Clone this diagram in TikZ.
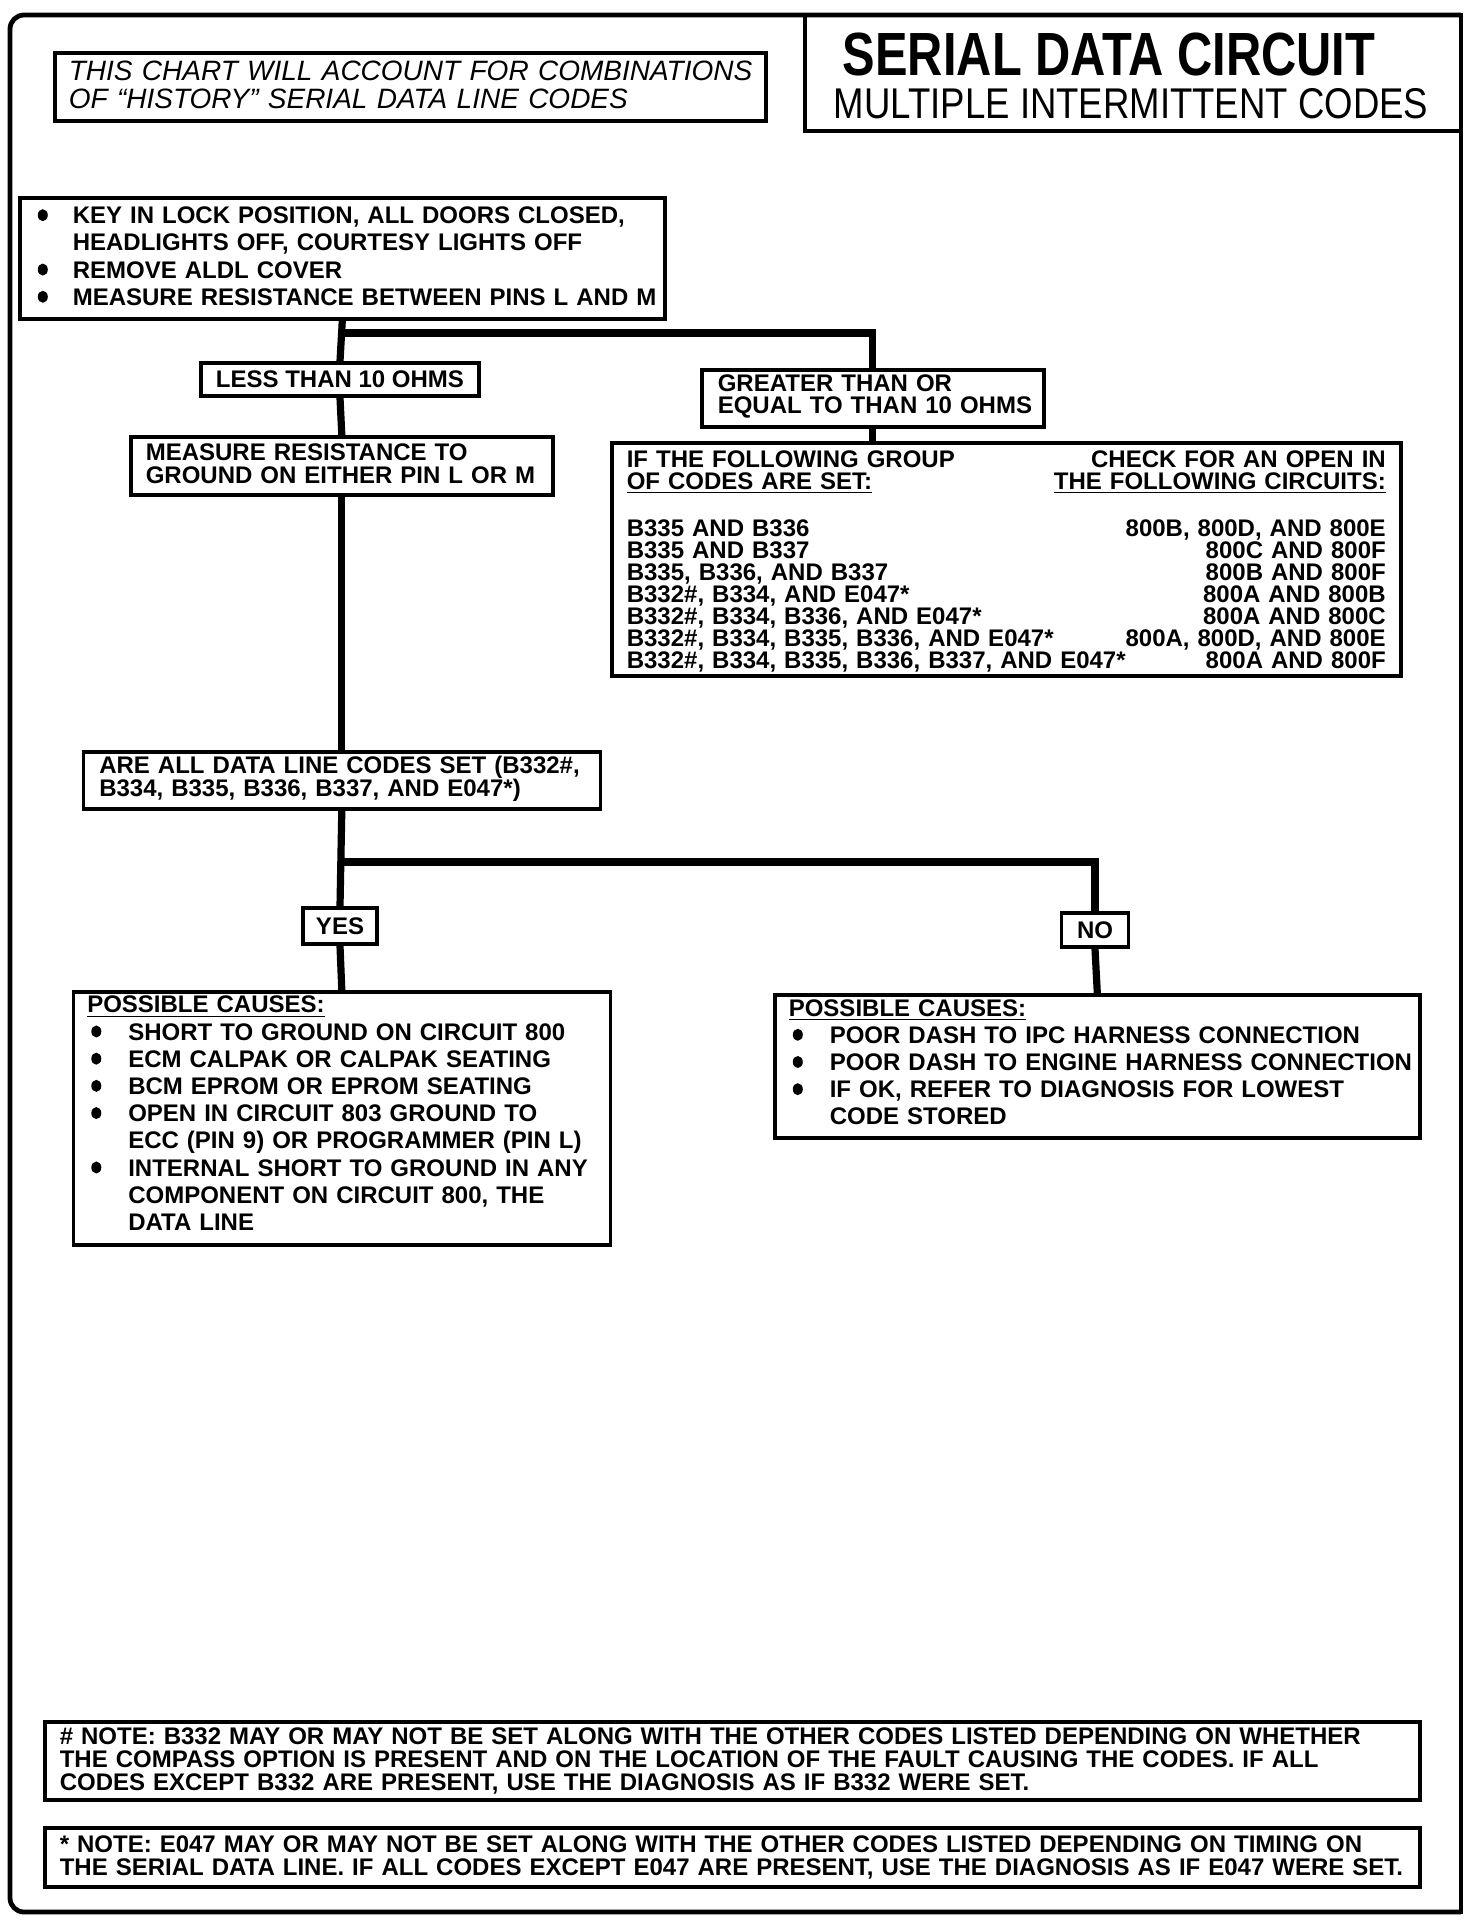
\documentclass[tikz,border=0pt]{standalone}
\usepackage{fontspec}
\setmainfont{Liberation Sans}
\newfontfamily\titlefont[FakeStretch=0.8]{Liberation Sans}
\newfontfamily\subtitlefont[FakeStretch=0.85]{Liberation Sans}
\setlength{\parindent}{0pt}
\lineskiplimit=-50pt
\newcommand\bodyfont{\bfseries\fontsize{12}{13.6}\selectfont}
\newcommand\tightfont{\bfseries\fontsize{12}{11.2}\selectfont}
\newcommand\codefont{\bfseries\fontsize{12}{11.0}\selectfont}
\newcommand\notefont{\bfseries\fontsize{12}{11.4}\selectfont}
\newsavebox\bulbox
\sbox\bulbox{\tikz\fill (0,0) ellipse [x radius=2.5pt, y radius=3pt];}
\newcommand\blt{\raisebox{1.3pt}{\usebox\bulbox}}
\newcommand\bul{\makebox[18pt][l]{\hspace{0.5pt}\blt}}
\newcommand\ind{\hspace*{18pt}}
\newcommand\cbul{\makebox[20.5pt][l]{\hspace{2pt}\blt}}
\newcommand\cind{\hspace*{20.5pt}}
\newcommand\oneline[1]{\hbox to \hsize{#1\hss}}
\newcommand\txtlines[1]{\vbox{#1}}
\tikzset{
  box/.style={draw, line width=1.8pt, fill=white, anchor=north west, align=left, inner ysep=0pt, font=\bodyfont},
  lbl/.style={draw, line width=1.8pt, fill=white, inner sep=0pt, font=\bodyfont},
  conn/.style={line width=3.6pt, line cap=butt},
  frame/.style={line width=2.4pt}
}
\begin{document}
\begin{tikzpicture}[x=0.5pt,y=-0.5pt]
\useasboundingbox (0,0) rectangle (1472,1922);
% outer frame
\draw[frame, rounded corners=7pt] (1461,1912) -- (10,1912) -- (10,15) -- (1461,15);
\draw[frame, line cap=rect] (1461,15) -- (1461,1912);
% title panel
\coordinate (tl) at (805,15);
\coordinate (tc) at (805,131);
\coordinate (tr) at (1461,131);
\draw[line width=1.6pt] (tl) -- (tc) -- (tr);
\node[inner sep=0pt, font=\titlefont\bfseries\fontsize{30.5}{30.5}\selectfont] (title) at (1109,55) {SERIAL DATA CIRCUIT};
\node[inner sep=0pt, font=\subtitlefont\fontsize{21.5}{21.5}\selectfont] (subtitle) at (1131,104) {MULTIPLE INTERMITTENT CODES};
% italic note
\node[box, font=\itshape\fontsize{14}{14}\selectfont, text width=341.5pt, inner xsep=7pt, minimum height=34pt] (intro) at (53,51)
  {\txtlines{\oneline{THIS CHART WILL ACCOUNT FOR COMBINATIONS}\oneline{OF ``HISTORY'' SERIAL DATA LINE CODES}\kern2pt}};
% first step
\node[box, text width=305.5pt, inner xsep=8.5pt, minimum height=60.5pt] (key) at (18,196)
  {\txtlines{\oneline{\bul KEY IN LOCK POSITION, ALL DOORS CLOSED,}
  \oneline{\ind HEADLIGHTS OFF, COURTESY LIGHTS OFF}
  \oneline{\bul REMOVE ALDL COVER}
  \oneline{\bul MEASURE RESISTANCE BETWEEN PINS L AND M}\kern2pt}};
\node[lbl, minimum width=139pt, minimum height=16.5pt] (less) at (340,379.5) {LESS THAN 10 OHMS};
\node[box, font=\tightfont, text width=155pt, inner xsep=8pt, minimum height=28.5pt] (greater) at (700,368)
  {\txtlines{\oneline{GREATER THAN OR}\oneline{EQUAL TO THAN 10 OHMS}\kern2pt}};
\node[box, font=\tightfont, text width=196pt, inner xsep=7.5pt, minimum height=29pt] (measure) at (129,435)
  {\txtlines{\oneline{MEASURE RESISTANCE TO}\oneline{GROUND ON EITHER PIN L OR M}\kern2pt}};
\node[box, font=\codefont, text width=379.5pt, inner xsep=7.5pt, minimum height=116.5pt] (codes) at (610,441)
  {\txtlines{%
  \oneline{IF THE FOLLOWING GROUP\hfill CHECK FOR AN OPEN IN}
  \oneline{\underline{OF CODES ARE SET:}\hfill \underline{THE FOLLOWING CIRCUITS:}}
  \oneline{\strut}
  \oneline{B335 AND B336\hfill 800B, 800D, AND 800E}
  \oneline{B335 AND B337\hfill 800C AND 800F}
  \oneline{B335, B336, AND B337\hfill 800B AND 800F}
  \oneline{B332\#, B334, AND E047*\hfill 800A AND 800B}
  \oneline{B332\#, B334, B336, AND E047*\hfill 800A AND 800C}
  \oneline{B332\#, B334, B335, B336, AND E047*\hfill 800A, 800D, AND 800E}
  \oneline{B332\#, B334, B335, B336, B337, AND E047*\hfill 800A AND 800F}\kern-2pt}};
\node[box, font=\tightfont, text width=242.5pt, inner xsep=8pt, minimum height=28.5pt] (areall) at (81.5,750)
  {\txtlines{\oneline{ARE ALL DATA LINE CODES SET (B332\#,}\oneline{B334, B335, B336, B337, AND E047*)}\kern1.5pt}};
\node[lbl, minimum width=37pt, minimum height=18pt] (yes) at (340,926) {YES};
\node[lbl, minimum width=33.5pt, minimum height=17pt] (no) at (1095,930) {NO};
\node[box, text width=254.5pt, inner xsep=7pt, minimum height=126.5pt] (yescauses) at (71.5,990)
  {\txtlines{\oneline{\underline{POSSIBLE CAUSES:}}
  \oneline{\cbul SHORT TO GROUND ON CIRCUIT 800}
  \oneline{\cbul ECM CALPAK OR CALPAK SEATING}
  \oneline{\cbul BCM EPROM OR EPROM SEATING}
  \oneline{\cbul OPEN IN CIRCUIT 803 GROUND TO}
  \oneline{\cind ECC (PIN 9) OR PROGRAMMER (PIN L)}
  \oneline{\cbul INTERNAL SHORT TO GROUND IN ANY}
  \oneline{\cind COMPONENT ON CIRCUIT 800, THE}
  \oneline{\cind DATA LINE}\kern5pt}};
\node[box, text width=308.5pt, inner xsep=7pt, minimum height=71.5pt] (nocauses) at (773,993)
  {\txtlines{\oneline{\underline{POSSIBLE CAUSES:}}
  \oneline{\cbul POOR DASH TO IPC HARNESS CONNECTION}
  \oneline{\cbul POOR DASH TO ENGINE HARNESS CONNECTION}
  \oneline{\cbul IF OK, REFER TO DIAGNOSIS FOR LOWEST}
  \oneline{\cind CODE STORED}\kern4pt}};
% footnotes
\node[box, font=\notefont, text width=672.5pt, inner xsep=7.5pt, minimum height=39pt] (note1) at (43,1720)
  {\txtlines{\oneline{\# NOTE: B332 MAY OR MAY NOT BE SET ALONG WITH THE OTHER CODES LISTED DEPENDING ON WHETHER}
  \oneline{THE COMPASS OPTION IS PRESENT AND ON THE LOCATION OF THE FAULT CAUSING THE CODES. IF ALL}
  \oneline{CODES EXCEPT B332 ARE PRESENT, USE THE DIAGNOSIS AS IF B332 WERE SET.}}};
\node[box, font=\notefont, text width=672.5pt, inner xsep=7.5pt, minimum height=29.5pt] (note2) at (43,1826)
  {\txtlines{\oneline{* NOTE: E047 MAY OR MAY NOT BE SET ALONG WITH THE OTHER CODES LISTED DEPENDING ON TIMING ON}
  \oneline{THE SERIAL DATA LINE. IF ALL CODES EXCEPT E047 ARE PRESENT, USE THE DIAGNOSIS AS IF E047 WERE SET.}}};
% connectors
\coordinate (b1) at (340,333);
\coordinate (b2) at (340,862);
\draw[conn] (key.south) -- (less.north);
\draw[conn] (b1) -| (greater.north);
\draw[conn] (greater.south) -- (greater.south |- codes.north);
\draw[conn] (less.south) -- (measure.north);
\draw[conn] (measure.south) -- (areall.north);
\draw[conn] (areall.south) -- (yes.north);
\draw[conn] (b2) -| (no.north);
\draw[conn] (yes.south) -- (yescauses.north);
\draw[conn] (no.south) -- (nocauses.north);
\end{tikzpicture}
\end{document}
